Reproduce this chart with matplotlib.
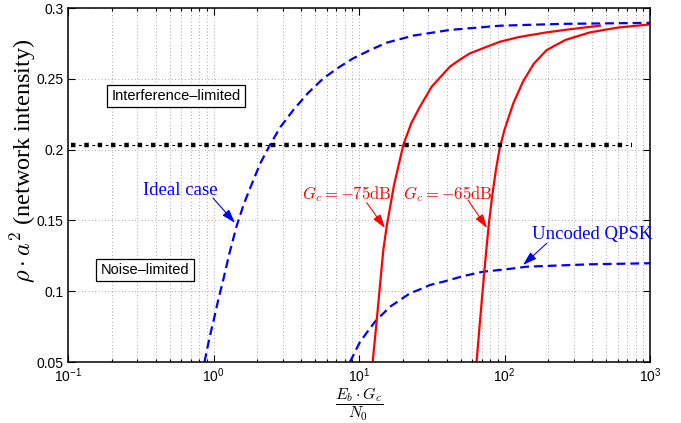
import matplotlib
matplotlib.use("Agg")
import matplotlib.pyplot as plt
from matplotlib.ticker import FuncFormatter, LogLocator, NullFormatter
import numpy as np

plt.rcParams["font.family"] = "Liberation Sans"
plt.rcParams["mathtext.fontset"] = "cm"

# x values are log10(Eb*Gc/N0), y values are rho*a^2
ideal_logx = [-0.062, -0.03, 0.0, 0.033, 0.067, 0.11, 0.159, 0.21, 0.2625, 0.32, 0.388,
              0.46, 0.549, 0.65, 0.755, 0.86, 0.961, 1.07, 1.19, 1.373, 1.625, 1.97, 2.4, 3.0]
ideal_y = [0.05, 0.066, 0.079, 0.094, 0.108, 0.127, 0.146, 0.162, 0.1755, 0.19, 0.2033,
           0.216, 0.228, 0.24, 0.2503, 0.258, 0.2645, 0.27, 0.2755, 0.2805, 0.2845, 0.2875, 0.2888, 0.2895]

qpsk_logx = [0.938, 1.007, 1.11, 1.213, 1.282, 1.35, 1.419, 1.488, 1.58, 1.717, 1.854,
             2.015, 2.152, 2.588, 2.977, 3.0]
qpsk_y = [0.05, 0.0643, 0.0785, 0.089, 0.0938, 0.0985, 0.1013, 0.1044, 0.1067, 0.1107, 0.1138,
          0.1155, 0.1173, 0.119, 0.1197, 0.1198]

g75_logx = [1.094, 1.121, 1.167, 1.19, 1.24, 1.305, 1.36, 1.419, 1.5, 1.625, 1.7, 1.763,
            1.85, 1.969, 2.1, 2.29, 2.45, 2.656]
g75_y = [0.05, 0.0785, 0.129, 0.1456, 0.1746, 0.2035, 0.2188, 0.2303, 0.2445, 0.2586, 0.264, 0.268,
         0.2715, 0.2762, 0.2795, 0.2828, 0.285, 0.2875]

g65_logx = [1.808, 1.83, 1.852, 1.873, 1.893, 1.915, 1.94, 1.965, 2.0, 2.06, 2.127, 2.2,
            2.29, 2.42, 2.588, 2.78, 3.0]
g65_y = [0.05, 0.077, 0.103, 0.127, 0.148, 0.167, 0.185, 0.2, 0.214, 0.2325, 0.248, 0.2605,
         0.2703, 0.2775, 0.2828, 0.2862, 0.2884]

# boundary between noise- and interference-limited regions
thr_x = [0.105, 750]
thr_level = 0.203

y_ticks = [0.05, 0.1, 0.15, 0.2, 0.25, 0.3]
y_ticklabels = ["0.05", "0.1", "0.15", "0.2", "0.25", "0.3"]
x_ticks = [0.1, 1, 10, 100, 1000]

fig = plt.figure(figsize=(6.81, 4.23), dpi=100)
ax = fig.add_axes([68 / 681, 61 / 423, 582 / 681, 354 / 423])

blue = (0, 0, 1)
red = (1, 0, 0)

ax.plot(10 ** np.array(ideal_logx), ideal_y, color=blue, lw=1.6, dashes=(4.0, 2.2))
ax.plot(10 ** np.array(qpsk_logx), qpsk_y, color=blue, lw=1.6, dashes=(4.0, 2.2))
ax.plot(10 ** np.array(g75_logx), g75_y, color=red, lw=1.6)
ax.plot(10 ** np.array(g65_logx), g65_y, color=red, lw=1.6)

# square dash-dot threshold: thick squares plus thin dashes between them
ax.plot(thr_x, [thr_level] * 2, color="k", lw=3.2, dash_capstyle="butt",
        linestyle=(0, (1.0, 2.0)))
ax.plot(thr_x, [thr_level] * 2, color="k", lw=0.8,
        linestyle=(4.2 / 0.8, (2.0 / 0.8, 7.6 / 0.8)))

ax.set_xscale("log")
ax.set_xlim(0.1, 1000)
ax.set_ylim(0.05, 0.3)
ax.set_xticks(x_ticks)
ax.xaxis.set_minor_locator(LogLocator(base=10, subs=np.arange(2, 10)))
ax.xaxis.set_minor_formatter(NullFormatter())
ax.xaxis.set_major_formatter(FuncFormatter(
    lambda v, pos: r"$\mathregular{10^{%d}}$" % round(np.log10(v))))
ax.set_yticks(y_ticks)
ax.set_yticklabels(y_ticklabels)

ax.tick_params(which="both", direction="in", top=True, right=True,
               labelsize=10, width=0.8)
ax.tick_params(which="major", length=5)
ax.tick_params(which="minor", length=2.5)
ax.tick_params(axis="y", pad=3)
ax.tick_params(axis="x", pad=3)
for s in ax.spines.values():
    s.set_linewidth(1.1)

ax.grid(True, which="major", color="0.55", lw=0.6, linestyle=(0, (1, 3)))
ax.grid(True, which="minor", axis="x", color="0.55", lw=0.6, linestyle=(0, (1, 3)))

ax.set_xlabel(r"$\dfrac{E_b \cdot G_c}{N_0}$", fontsize=11.5)
ax.xaxis.set_label_coords(0.5, -0.067)
ax.set_ylabel(r"$\rho \cdot a^2$ (network intensity)", fontsize=17.5,
              family="Liberation Serif")
ax.yaxis.set_label_coords(-0.078, 0.568)
ax.yaxis.label.set_verticalalignment("center")

box = dict(boxstyle="square,pad=0.3", fc="white", ec="k", lw=0.9)
ax.text(0.552, 0.2379, "Interference\u2013limited", fontsize=10.5,
        ha="center", va="center", bbox=box)
ax.text(0.338, 0.115, "Noise\u2013limited", fontsize=10.5,
        ha="center", va="center", bbox=box)

arrow = dict(arrowstyle="-|>,head_length=0.7,head_width=0.22", lw=0.8,
             shrinkA=0, shrinkB=0, mutation_scale=12)

ax.text(0.593, 0.171, "Ideal case", color=blue, fontsize=13.5,
        family="Liberation Serif", ha="center", va="center")
ax.annotate("", xy=(1.406, 0.1482), xytext=(0.992, 0.1658),
            arrowprops=dict(arrow, color=blue))

ax.text(399, 0.1397, "Uncoded QPSK", color=blue, fontsize=13.5,
        family="Liberation Serif", ha="center", va="center")
ax.annotate("", xy=(134, 0.1185), xytext=(196, 0.134),
            arrowprops=dict(arrow, color=blue))

ax.text(8.23, 0.1686, r"$G_c = -75\mathrm{dB}$", color=red, fontsize=12,
        ha="center", va="center")
ax.annotate("", xy=(15.09, 0.1446), xytext=(11.3, 0.1625),
            arrowprops=dict(arrow, color=red))

ax.text(40.9, 0.1686, r"$G_c = -65\mathrm{dB}$", color=red, fontsize=12,
        ha="center", va="center")
ax.annotate("", xy=(75.9, 0.1446), xytext=(56.1, 0.1644),
            arrowprops=dict(arrow, color=red))

fig.savefig("out.png", dpi=100)
